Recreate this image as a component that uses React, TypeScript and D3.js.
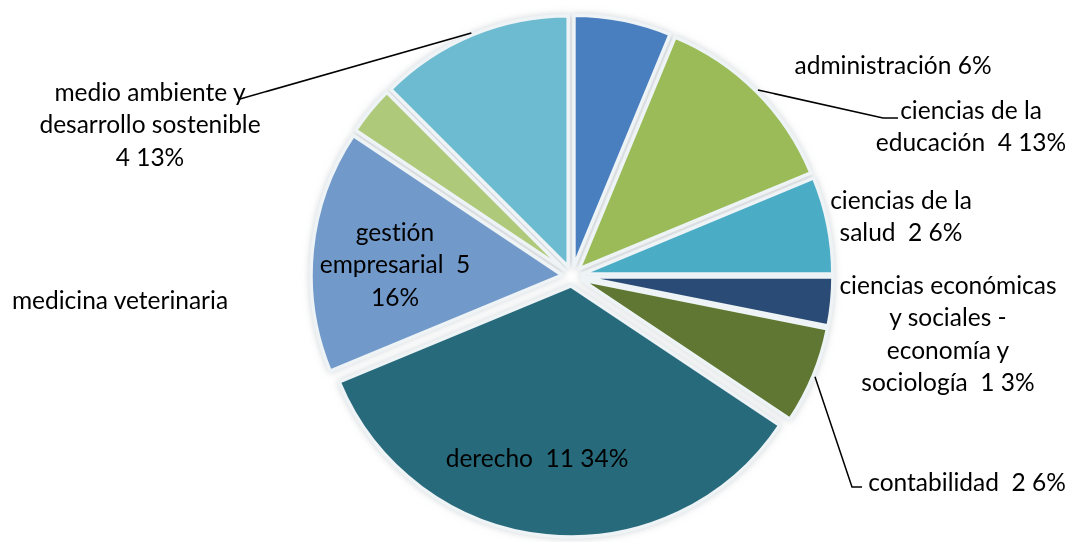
import React from "react";
import * as d3 from "d3";

// ---- data ----
const categories = [
  "administración",
  "ciencias de la educación",
  "ciencias de la salud",
  "ciencias económicas y sociales - economía y sociología",
  "contabilidad",
  "derecho",
  "gestión empresarial",
  "medicina veterinaria",
  "medio ambiente y desarrollo sostenible",
];
const values = [2, 4, 2, 1, 2, 11, 5, 1, 4];
const colors = [
  "#4A7EBF",
  "#9BBB59",
  "#4BACC6",
  "#2B4C74",
  "#5E7730",
  "#276A7C",
  "#7199CA",
  "#AFC97A",
  "#6DBBD0",
];
// label text lines; {v} = value, {p} = percent
const labelLines = [
  ["administración {p}%"],
  ["ciencias de la", "educación  {v} {p}%"],
  ["ciencias de la", "salud  {v} {p}%"],
  ["ciencias económicas", "y sociales -", "economía y", "sociología  {v} {p}%"],
  ["contabilidad  {v} {p}%"],
  ["derecho  {v} {p}%"],
  ["gestión", "empresarial  {v}", "{p}%"],
  ["medicina veterinaria"],
  ["medio ambiente y", "desarrollo sostenible", "{v} {p}%"],
];

// ---- layout ----
const W = 1072;
const H = 542;
const cx = 572;
const cy = 276;
const R = 251;
const EXPLODE = 10;
const FONT = 24.5;
const LINE_H = 32.5;
const labelPos: [number, number][] = [
  [893, 65],
  [971, 110],
  [901, 200],
  [948, 285],
  [967, 482],
  [537, 458],
  [395, 232],
  [120, 300],
  [150, 92],
];
// leader lines: index -> bend points after the arc point
const leaders: { i: number; pts: [number, number][] }[] = [
  { i: 8, pts: [[240, 99]] },
  { i: 1, pts: [[883, 118], [898, 118]] },
  { i: 4, pts: [[852, 487], [862, 487]] },
];

export default function App() {
  const total = d3.sum(values);
  const pie = d3
    .pie<number>()
    .sort(null)
    .value((d) => d);
  const arcs = pie(values);
  const arc = d3.arc<d3.PieArcDatum<number>>().innerRadius(0).outerRadius(R);

  const mid = (a: d3.PieArcDatum<number>) => (a.startAngle + a.endAngle) / 2;
  const off = (a: d3.PieArcDatum<number>) => {
    const m = mid(a);
    return [Math.sin(m) * EXPLODE, -Math.cos(m) * EXPLODE];
  };

  const fmt = (s: string, i: number) =>
    s
      .replace("{v}", String(values[i]))
      .replace("{p}", String(Math.round((values[i] / total) * 100)));

  const line = d3.line();

  return (
    <svg
      width={W}
      height={H}
      style={{ position: "absolute", left: 0, top: 0, background: "#fff" }}
      fontFamily="Lato, 'Open Sans', sans-serif"
    >
      <defs>
        <filter id="glow" x="-10%" y="-10%" width="120%" height="120%">
          <feGaussianBlur in="SourceAlpha" stdDeviation="3.5" result="b" />
          <feFlood floodColor="#c3c8cc" floodOpacity="0.8" />
          <feComposite in2="b" operator="in" result="s" />
          <feMerge>
            <feMergeNode in="s" />
            <feMergeNode in="SourceGraphic" />
          </feMerge>
        </filter>
      </defs>
      <g transform={`translate(${cx},${cy})`} filter="url(#glow)">
        {arcs.map((a, i) => {
          const [dx, dy] = off(a);
          return (
            <path
              key={categories[i]}
              d={arc(a) || ""}
              transform={`translate(${dx},${dy})`}
              fill={colors[i]}
              stroke="#eef3f6"
              strokeWidth={3.5}
              strokeLinejoin="round"
            />
          );
        })}
      </g>
      {leaders.map(({ i, pts }) => {
        const a = arcs[i];
        const m = mid(a);
        const rr = R + EXPLODE + 2;
        const start: [number, number] = [cx + Math.sin(m) * rr, cy - Math.cos(m) * rr];
        return (
          <path
            key={"l" + i}
            d={line([start, ...pts]) || ""}
            fill="none"
            stroke="#000"
            strokeWidth={1.5}
          />
        );
      })}
      {labelLines.map((lines, i) => (
        <text
          key={"t" + i}
          textAnchor="middle"
          fontSize={FONT}
          fill="#000"
          style={{ whiteSpace: "pre", fontVariantLigatures: "none" }}
        >
          {lines.map((s, k) => (
            <tspan
              key={k}
              x={labelPos[i][0]}
              y={labelPos[i][1] + k * LINE_H + FONT * 0.36}
            >
              {fmt(s, i)}
            </tspan>
          ))}
        </text>
      ))}
    </svg>
  );
}
